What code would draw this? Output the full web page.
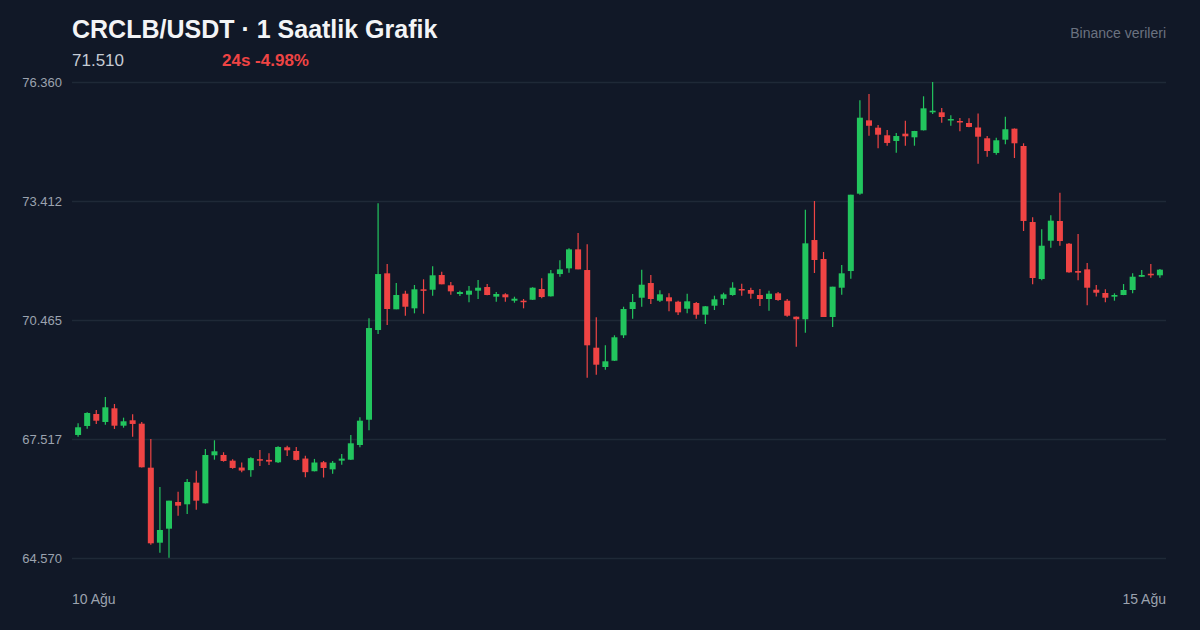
<!DOCTYPE html>
<html lang="tr">
  <head>
    <meta charset="UTF-8" />
    <title>CRCLB/USDT</title>
    <script src="https://d3js.org/d3.v7.min.js"></script>
    <style>
      body {
        margin: 0;
        background: #111827;
        font-family: "Liberation Sans", Arial, sans-serif;
      }
      svg {
        display: block;
      }
    </style>
  </head>
  <body>
    <div id="chart"></div>
    <script>
      // 1 saatlik mumlar, 10 Ağu -> 15 Ağu
      const opens = [
        67.617, 67.84, 68.137, 67.939, 68.278, 67.847, 67.981, 67.897, 66.807, 64.949,
        65.296, 65.957, 65.9, 66.436, 65.925, 67.114, 67.122, 66.981, 66.81, 66.746,
        67.018, 67.0, 66.941, 67.312, 67.221, 67.033, 66.719, 66.941, 66.766, 66.981,
        67.005, 67.369, 67.995, 70.217, 71.621, 70.73, 71.116, 70.754, 71.225, 71.215,
        71.579, 71.324, 71.109, 71.092, 71.191, 71.282, 71.043, 71.101, 70.943, 70.943,
        70.967, 71.233, 71.052, 71.603, 71.744, 72.215, 71.703, 69.779, 69.301, 69.457,
        70.086, 70.737, 71.017, 71.381, 70.943, 71.027, 70.918, 70.744, 70.886, 70.596,
        70.819, 70.992, 71.084, 71.233, 71.208, 71.084, 70.985, 71.126, 70.943, 70.547,
        70.483, 72.446, 71.976, 70.539, 71.265, 71.678, 73.594, 75.41, 75.228, 75.04,
        74.899, 75.08, 74.99, 75.164, 75.609, 75.609, 75.41, 75.394, 75.345, 75.233,
        74.966, 74.602, 74.931, 75.204, 74.775, 72.892, 71.48, 72.429, 72.917, 72.355,
        71.678, 71.719, 71.215, 71.134, 71.043, 71.084, 71.208, 71.537, 71.611, 71.572
      ];
      const highs = [
        67.907, 68.179, 68.236, 68.558, 68.385, 68.046, 68.13, 67.939, 67.518, 66.329,
        65.99, 66.213, 66.527, 66.734, 67.27, 67.486, 67.189, 67.015, 66.934, 67.068,
        67.246, 67.164, 67.337, 67.352, 67.32, 67.104, 67.024, 66.973, 66.973, 67.147,
        67.617, 68.056, 70.507, 73.355, 71.852, 71.381, 71.191, 71.332, 71.473, 71.795,
        71.661, 71.406, 71.191, 71.307, 71.455, 71.356, 71.158, 71.126, 71.042, 70.985,
        71.275, 71.498, 71.703, 71.943, 72.24, 72.62, 72.339, 70.532, 69.838, 70.086,
        70.794, 71.109, 71.711, 71.579, 71.2, 71.126, 70.943, 71.116, 70.91, 70.81,
        71.067, 71.141, 71.398, 71.365, 71.265, 71.233, 71.191, 71.158, 70.985, 70.55,
        73.197, 73.412, 72.149, 71.29, 71.827, 73.57, 75.907, 76.063, 75.295, 75.171,
        75.097, 75.4, 75.15, 76.006, 76.36, 75.716, 75.535, 75.468, 75.461, 75.58,
        75.022, 74.981, 75.5, 75.21, 74.842, 73.008, 72.711, 73.058, 73.618, 72.373,
        72.595, 71.876, 71.332, 71.225, 71.126, 71.356, 71.621, 71.703, 71.852, 71.728
      ];
      const lows = [
        67.575, 67.773, 67.89, 67.872, 67.766, 67.798, 67.575, 66.81, 64.9, 64.702,
        64.578, 65.618, 65.66, 65.767, 65.92, 67.005, 66.956, 66.782, 66.696, 66.58,
        66.85, 66.874, 66.924, 67.097, 66.983, 66.573, 66.715, 66.563, 66.659, 66.882,
        67.0, 67.312, 67.733, 70.118, 70.339, 70.73, 70.571, 70.63, 70.621, 71.067,
        71.349, 71.092, 71.059, 70.903, 70.985, 71.077, 70.918, 70.918, 70.893, 70.754,
        70.96, 71.002, 71.05, 71.536, 71.635, 71.719, 69.036, 69.11, 69.234, 69.45,
        70.018, 70.497, 70.794, 70.861, 70.91, 70.68, 70.588, 70.63, 70.497, 70.365,
        70.712, 70.836, 71.067, 71.067, 70.992, 70.811, 70.695, 70.943, 70.547, 69.804,
        70.151, 71.629, 70.539, 70.29, 71.092, 71.487, 73.569, 75.03, 74.718, 74.782,
        74.61, 74.782, 74.782, 75.16, 75.567, 75.352, 75.278, 75.139, 75.24, 74.337,
        74.509, 74.56, 74.817, 74.478, 72.669, 71.349, 71.448, 72.255, 72.305, 71.637,
        71.448, 70.828, 71.05, 70.903, 70.943, 71.08, 71.126, 71.53, 71.513, 71.513
      ];
      const closes = [
        67.808, 68.162, 67.971, 68.303, 67.847, 67.956, 67.89, 66.817, 64.934, 65.264,
        65.99, 65.866, 66.453, 65.99, 67.121, 67.213, 66.973, 66.8, 66.736, 67.043,
        66.984, 66.958, 67.32, 67.238, 67.0, 66.696, 66.935, 66.8, 66.929, 67.031,
        67.411, 67.971, 70.266, 71.603, 70.737, 71.084, 70.794, 71.225, 71.2, 71.572,
        71.349, 71.175, 71.158, 71.191, 71.265, 71.084, 71.109, 71.027, 70.992, 70.91,
        71.265, 71.034, 71.621, 71.719, 72.215, 71.719, 69.838, 69.358, 69.442, 70.037,
        70.737, 70.91, 71.339, 70.985, 71.101, 70.928, 70.655, 70.928, 70.596, 70.804,
        70.977, 71.101, 71.265, 71.2, 71.116, 70.985, 71.116, 70.96, 70.571, 70.483,
        72.364, 71.951, 70.539, 71.29, 71.621, 73.568, 75.476, 75.276, 75.055, 74.85,
        75.022, 75.015, 75.146, 75.708, 75.649, 75.493, 75.443, 75.362, 75.246, 75.005,
        74.651, 74.916, 75.189, 74.842, 72.918, 71.505, 72.305, 72.925, 72.421, 71.646,
        71.637, 71.265, 71.141, 71.017, 71.084, 71.208, 71.537, 71.579, 71.572, 71.711
      ];
      const yTicks = [64.57, 67.517, 70.465, 73.412, 76.36];
      const xLabels = ["10 Ağu", "15 Ağu"];

      const width = 1200;
      const height = 630;
      const margin = { top: 82, right: 34, bottom: 72, left: 72 };
      const up = "#22c55e";
      const down = "#ef4444";

      const svg = d3
        .select("#chart")
        .append("svg")
        .attr("width", width)
        .attr("height", height);

      svg.append("rect").attr("width", width).attr("height", height).attr("fill", "#111827");

      const candles = opens.map((o, i) => ({
        i,
        o,
        h: highs[i],
        l: lows[i],
        c: closes[i]
      }));

      const x = d3
        .scaleBand()
        .domain(candles.map((d) => d.i))
        .range([margin.left, width - margin.right])
        .padding(0.34);

      const y = d3
        .scaleLinear()
        .domain([yTicks[0], yTicks[yTicks.length - 1]])
        .range([height - margin.bottom, margin.top]);

      // başlık
      svg
        .append("text")
        .attr("x", 72)
        .attr("y", 38)
        .attr("fill", "#f3f4f6")
        .attr("font-size", 25)
        .attr("font-weight", "bold")
        .text("CRCLB/USDT · 1 Saatlik Grafik");

      svg
        .append("text")
        .attr("x", 72)
        .attr("y", 66)
        .attr("fill", "#c5cbd4")
        .attr("font-size", 17)
        .text("71.510");

      svg
        .append("text")
        .attr("x", 222)
        .attr("y", 66)
        .attr("fill", down)
        .attr("font-size", 17)
        .attr("font-weight", "bold")
        .text("24s -4.98%");

      svg
        .append("text")
        .attr("x", width - margin.right)
        .attr("y", 38)
        .attr("text-anchor", "end")
        .attr("fill", "#6b7280")
        .attr("font-size", 14)
        .text("Binance verileri");

      // ızgara
      const yAxis = d3
        .axisLeft(y)
        .tickValues(yTicks)
        .tickSize(-(width - margin.left - margin.right))
        .tickPadding(10)
        .tickFormat(d3.format(".3f"));

      const gy = svg.append("g").attr("transform", `translate(${margin.left},0)`).call(yAxis);
      gy.select(".domain").remove();
      gy.selectAll(".tick line").attr("stroke", "#1f2937").attr("stroke-width", 1.5);
      gy.selectAll(".tick text")
        .attr("fill", "#9ca3af")
        .attr("font-size", 13)
        .attr("font-family", "'Liberation Sans', Arial, sans-serif");

      // mumlar
      const g = svg.append("g");
      const color = (d) => (d.c >= d.o ? up : down);

      g.selectAll("line.wick")
        .data(candles)
        .join("line")
        .attr("class", "wick")
        .attr("x1", (d) => x(d.i) + x.bandwidth() / 2)
        .attr("x2", (d) => x(d.i) + x.bandwidth() / 2)
        .attr("y1", (d) => y(d.h))
        .attr("y2", (d) => y(d.l))
        .attr("stroke", color)
        .attr("stroke-width", 1.2);

      g.selectAll("rect.body")
        .data(candles)
        .join("rect")
        .attr("class", "body")
        .attr("x", (d) => x(d.i))
        .attr("width", x.bandwidth())
        .attr("y", (d) => y(Math.max(d.o, d.c)))
        .attr("height", (d) => Math.max(1.5, Math.abs(y(d.o) - y(d.c))))
        .attr("fill", color);

      // tarih etiketleri
      svg
        .append("text")
        .attr("x", margin.left)
        .attr("y", 604)
        .attr("fill", "#9ca3af")
        .attr("font-size", 14)
        .text(xLabels[0]);

      svg
        .append("text")
        .attr("x", width - margin.right)
        .attr("y", 604)
        .attr("text-anchor", "end")
        .attr("fill", "#9ca3af")
        .attr("font-size", 14)
        .text(xLabels[1]);
    </script>
  </body>
</html>
